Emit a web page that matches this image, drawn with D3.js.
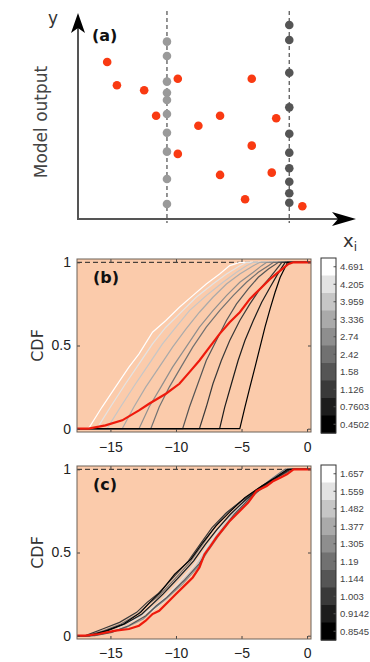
<!DOCTYPE html>
<html>
<head>
<meta charset="utf-8">
<script src="https://cdn.jsdelivr.net/npm/d3@7/dist/d3.min.js"></script>
<style>
  body { margin: 0; background: #fff; }
  svg { display: block; font-family: 'DejaVu Sans', sans-serif; }
  .tick line { stroke: #444; }
  .tick text { fill: #222; font-size: 14px; }
  .cb text { font-family: 'Liberation Sans', Arial, sans-serif; font-size: 9.5px; fill: #444; }
</style>
</head>
<body>
<svg></svg>
<script>
// ---- panel (a): scatter of model output against x_i
let fixedXi = [3.2, 7.6]
let redX = [1.05, 1.40, 2.38, 2.81, 3.59, 3.59, 4.33, 5.11, 5.11, 6.01, 6.25, 6.25, 6.97, 7.13, 8.07]
let redY = [7.62, 6.49, 6.25, 5.01, 6.81, 3.16, 4.53, 5.01, 2.14, 0.96, 6.81, 3.56, 2.25, 4.89, 0.62]
let lightY = [8.61, 7.91, 6.67, 6.13, 5.78, 5.10, 4.19, 3.27, 1.94, 0.73]
let darkY = [9.42, 8.69, 7.10, 5.42, 4.14, 3.22, 2.46, 1.81, 1.25, 0.79]

// ---- shared CDF axes
let cdfTicksX = [-15, -10, -5, 0]
let cdfTicksY = [0, 0.5, 1]

// ---- panel (b): conditional CDFs, lightest first
let bLabels = ['4.691', '4.205', '3.959', '3.336', '2.74', '2.42', '1.58', '1.126', '0.7603', '0.4502']
let bCurves = [
  [[-16.67, 0], [-15.64, 0.13], [-14.62, 0.25], [-13.59, 0.37], [-12.82, 0.45], [-11.79, 0.58], [-10.77, 0.65], [-9.74, 0.73], [-8.72, 0.80], [-7.69, 0.87], [-6.67, 0.93], [-5.90, 0.98], [-5.13, 1]],
  [[-16.03, 0], [-15.00, 0.13], [-13.85, 0.27], [-12.82, 0.39], [-11.79, 0.51], [-10.77, 0.61], [-9.49, 0.71], [-8.46, 0.79], [-7.18, 0.87], [-6.15, 0.93], [-5.13, 0.98], [-4.62, 1]],
  [[-15.26, 0], [-14.23, 0.13], [-13.08, 0.27], [-12.05, 0.39], [-11.03, 0.51], [-10.00, 0.61], [-8.97, 0.71], [-7.69, 0.80], [-6.41, 0.88], [-5.38, 0.94], [-4.62, 0.98], [-4.10, 1]],
  [[-14.10, 0], [-13.21, 0.13], [-12.31, 0.25], [-11.28, 0.37], [-10.26, 0.49], [-9.23, 0.60], [-8.21, 0.70], [-7.18, 0.79], [-6.15, 0.87], [-5.13, 0.93], [-4.10, 0.98], [-3.59, 1]],
  [[-12.82, 0], [-12.05, 0.13], [-11.15, 0.25], [-10.26, 0.37], [-9.23, 0.49], [-8.21, 0.61], [-7.18, 0.71], [-6.15, 0.80], [-5.13, 0.88], [-4.10, 0.94], [-3.46, 0.98], [-3.08, 1]],
  [[-11.92, 0], [-11.28, 0.13], [-10.51, 0.25], [-9.62, 0.37], [-8.72, 0.49], [-7.69, 0.61], [-6.67, 0.71], [-5.64, 0.80], [-4.62, 0.88], [-3.72, 0.94], [-2.95, 0.98], [-2.56, 1]],
  [[-9.49, 0], [-8.97, 0.13], [-8.33, 0.27], [-7.69, 0.41], [-6.92, 0.53], [-6.15, 0.65], [-5.38, 0.75], [-4.49, 0.84], [-3.72, 0.91], [-2.95, 0.96], [-2.18, 1]],
  [[-8.21, 0], [-7.69, 0.13], [-7.18, 0.27], [-6.54, 0.41], [-5.90, 0.53], [-5.13, 0.65], [-4.36, 0.75], [-3.59, 0.84], [-2.82, 0.91], [-2.31, 0.96], [-1.92, 1]],
  [[-6.67, 0], [-6.28, 0.13], [-5.77, 0.27], [-5.26, 0.41], [-4.74, 0.53], [-4.10, 0.65], [-3.46, 0.76], [-2.82, 0.85], [-2.31, 0.92], [-1.92, 0.97], [-1.67, 1]],
  [[-5.13, 0], [-4.74, 0.13], [-4.36, 0.25], [-3.97, 0.37], [-3.59, 0.49], [-3.21, 0.61], [-2.82, 0.72], [-2.44, 0.82], [-2.05, 0.91], [-1.67, 0.97], [-1.49, 1]]
]
let bRed = [[-16.67, 0], [-15.38, 0.02], [-14.10, 0.05], [-12.82, 0.11], [-12.05, 0.15], [-10.77, 0.21], [-9.74, 0.27], [-8.97, 0.34], [-8.21, 0.41], [-7.44, 0.49], [-6.67, 0.57], [-5.90, 0.64], [-5.13, 0.70], [-4.36, 0.78], [-3.59, 0.84], [-2.82, 0.90], [-2.05, 0.95], [-1.41, 0.99], [-1.03, 1]]

// ---- panel (c): conditional CDFs, lightest first
let cLabels = ['1.657', '1.559', '1.482', '1.377', '1.305', '1.19', '1.144', '1.003', '0.9142', '0.8545']
let cCurves = [
  [[-16.5, 0], [-15.2, 0.02], [-13.9, 0.05], [-12.6, 0.10], [-11.8, 0.15], [-11.0, 0.20], [-9.7, 0.30], [-8.55, 0.40], [-7.75, 0.50], [-6.85, 0.60], [-5.95, 0.70], [-4.75, 0.80], [-3.35, 0.90], [-2.45, 0.95], [-1.4, 1]],
  [[-16.6, 0], [-15.4, 0.03], [-14.1, 0.06], [-12.8, 0.11], [-11.9, 0.16], [-11.1, 0.21], [-9.9, 0.31], [-8.75, 0.41], [-7.85, 0.51], [-7.05, 0.60], [-6.15, 0.70], [-4.95, 0.80], [-3.55, 0.89], [-2.65, 0.95], [-1.6, 1]],
  [[-16.3, 0], [-15.0, 0.02], [-13.7, 0.06], [-12.4, 0.11], [-11.6, 0.17], [-10.8, 0.22], [-9.6, 0.32], [-8.45, 0.42], [-7.65, 0.52], [-6.75, 0.62], [-5.75, 0.72], [-4.55, 0.81], [-3.25, 0.90], [-2.25, 0.96], [-1.3, 1]],
  [[-16.7, 0], [-15.3, 0.03], [-14.0, 0.07], [-12.7, 0.12], [-11.9, 0.18], [-11.2, 0.23], [-10.0, 0.33], [-8.85, 0.43], [-7.95, 0.53], [-6.95, 0.63], [-6.05, 0.71], [-5.05, 0.79], [-3.65, 0.88], [-2.55, 0.94], [-1.5, 1]],
  [[-16.4, 0], [-15.1, 0.02], [-13.8, 0.05], [-12.5, 0.10], [-11.7, 0.16], [-10.9, 0.21], [-9.5, 0.31], [-8.35, 0.41], [-7.55, 0.51], [-6.65, 0.61], [-5.65, 0.71], [-4.45, 0.82], [-3.15, 0.91], [-2.15, 0.96], [-1.2, 1]],
  [[-16.8, 0], [-15.5, 0.03], [-14.2, 0.07], [-12.9, 0.13], [-12.1, 0.19], [-11.3, 0.24], [-10.1, 0.34], [-8.95, 0.44], [-8.05, 0.54], [-7.15, 0.64], [-6.25, 0.73], [-5.15, 0.80], [-3.75, 0.88], [-2.75, 0.94], [-1.7, 1]],
  [[-16.2, 0], [-14.9, 0.02], [-13.6, 0.06], [-12.3, 0.12], [-11.5, 0.18], [-10.7, 0.23], [-9.4, 0.33], [-8.25, 0.43], [-7.45, 0.53], [-6.55, 0.63], [-5.55, 0.73], [-4.35, 0.83], [-3.05, 0.91], [-2.05, 0.96], [-1.1, 1]],
  [[-16.9, 0], [-15.6, 0.04], [-14.3, 0.08], [-13.0, 0.14], [-12.2, 0.20], [-11.4, 0.25], [-10.2, 0.35], [-9.05, 0.45], [-8.15, 0.55], [-7.25, 0.65], [-6.15, 0.74], [-4.85, 0.82], [-3.45, 0.90], [-2.35, 0.95], [-1.4, 1]],
  [[-16.5, 0], [-15.2, 0.03], [-13.9, 0.07], [-12.6, 0.13], [-11.8, 0.19], [-11.0, 0.25], [-9.8, 0.35], [-8.65, 0.45], [-7.75, 0.55], [-6.85, 0.64], [-5.85, 0.73], [-4.65, 0.82], [-3.35, 0.90], [-2.35, 0.95], [-1.3, 1]],
  [[-16.6, 0], [-15.3, 0.03], [-14.0, 0.07], [-12.7, 0.14], [-12.0, 0.20], [-11.2, 0.26], [-10.1, 0.37], [-8.85, 0.46], [-7.95, 0.56], [-6.95, 0.66], [-5.95, 0.74], [-4.75, 0.83], [-3.45, 0.90], [-2.45, 0.95], [-1.5, 1]]
]
let cRed = [[-16.9, 0], [-15.9, 0.01], [-14.62, 0.03], [-13.59, 0.04], [-12.82, 0.06], [-12.31, 0.09], [-11.79, 0.13], [-11.28, 0.15], [-10.51, 0.21], [-10.00, 0.25], [-9.23, 0.31], [-8.72, 0.35], [-8.21, 0.41], [-7.82, 0.49], [-7.44, 0.53], [-6.92, 0.59], [-6.41, 0.64], [-5.90, 0.69], [-5.13, 0.75], [-4.49, 0.80], [-3.85, 0.87], [-3.08, 0.90], [-2.56, 0.93], [-2.05, 0.95], [-1.54, 0.97], [-1.03, 1]]

let width = 370
let height = 662
let peach = '#fbcbab'
let redColor = '#ee1a0c'

let svg = d3.select('svg').attr('width', width).attr('height', height)

let grayOf = (i) => {
  let g = Math.round(255 * (1 - i / 9))
  return 'rgb(' + g + ',' + g + ',' + g + ')'
}

// ---------------- panel (a)
let drawScatter = () => {
  let ax = d3.scaleLinear().domain([0, 10]).range([78, 356])
  let ay = d3.scaleLinear().domain([0, 10]).range([219, 13])
  let g = svg.append('g')

  g.selectAll('line.fixed')
  .data(fixedXi)
  .enter()
  .append('line')
  .attr('x1', (d) => ax(d)).attr('x2', (d) => ax(d))
  .attr('y1', ay(10) - 2).attr('y2', ay(0) + 4)
  .attr('stroke', '#666').attr('stroke-width', 1.4)
  .attr('stroke-dasharray', '4,3')

  // axes with arrow heads
  let x0 = ax.range()[0], x1 = ax.range()[1]
  let y0 = ay.range()[0], y1 = ay.range()[1]
  g.append('line').attr('x1', x0).attr('x2', x1 - 10).attr('y1', y0).attr('y2', y0)
  .attr('stroke', '#555').attr('stroke-width', 2)
  g.append('line').attr('x1', x0).attr('x2', x0).attr('y1', y0 + 1).attr('y2', y1 + 10)
  .attr('stroke', '#555').attr('stroke-width', 2)
  g.append('path')
  .attr('d', 'M' + x1 + ',' + y0 + 'L' + (x1 - 24) + ',' + (y0 - 7) + 'L' + (x1 - 18) + ',' + y0 + 'L' + (x1 - 24) + ',' + (y0 + 7) + 'Z')
  .attr('fill', '#000')
  g.append('path')
  .attr('d', 'M' + x0 + ',' + y1 + 'L' + (x0 - 7) + ',' + (y1 + 20) + 'L' + x0 + ',' + (y1 + 15) + 'L' + (x0 + 7) + ',' + (y1 + 20) + 'Z')
  .attr('fill', '#000')

  g.selectAll('circle.light')
  .data(lightY)
  .enter()
  .append('circle')
  .attr('r', 4.3)
  .attr('cx', ax(fixedXi[0]))
  .attr('cy', (d) => ay(d))
  .attr('fill', '#9a9a9a')

  g.selectAll('circle.dark')
  .data(darkY)
  .enter()
  .append('circle')
  .attr('r', 4.3)
  .attr('cx', ax(fixedXi[1]))
  .attr('cy', (d) => ay(d))
  .attr('fill', '#555')

  g.selectAll('circle.red')
  .data(redX)
  .enter()
  .append('circle')
  .attr('r', 4.3)
  .attr('cx', (d) => ax(d))
  .attr('cy', (d, i) => ay(redY[i]))
  .attr('fill', '#f93a12')

  g.append('text').attr('x', 48).attr('y', 24).style('font-size', '17px').attr('fill', '#333').text('y')
  g.append('text').attr('x', 92).attr('y', 41).style('font-size', '16px').style('font-weight', 'bold').attr('fill', '#111').text('(a)')
  g.append('text')
  .attr('transform', 'translate(47,122) rotate(-90)')
  .style('text-anchor', 'middle')
  .style('font-size', '17px')
  .attr('fill', '#444')
  .text('Model output')
  let xi = g.append('text').attr('x', 343).attr('y', 247).style('font-size', '18px').attr('fill', '#333')
  xi.append('tspan').text('x')
  xi.append('tspan').attr('dy', 4).style('font-size', '12px').text('i')
}

// ---------------- panels (b) and (c)
let drawCdfPanel = (top, curves, red, labels, tag) => {
  let x = d3.scaleLinear().domain([-17.55, 0.3]).range([77, 311])
  let y = d3.scaleLinear().domain([-0.02, 1.02]).range([top + 173, top])
  let g = svg.append('g')
  let clipId = 'clip-' + tag

  g.append('clipPath').attr('id', clipId)
  .append('rect')
  .attr('x', x.range()[0]).attr('y', top)
  .attr('width', x.range()[1] - x.range()[0]).attr('height', 173)

  g.append('rect')
  .attr('x', x.range()[0]).attr('y', top)
  .attr('width', x.range()[1] - x.range()[0]).attr('height', 173)
  .attr('fill', peach)

  g.append('line')
  .attr('x1', x.range()[0]).attr('x2', x.range()[1])
  .attr('y1', y(1)).attr('y2', y(1))
  .attr('stroke', '#222').attr('stroke-width', 1)
  .attr('stroke-dasharray', '5,3')

  let line = d3.line()
  .x((d) => x(d[0]))
  .y((d) => y(d[1]))
  let extend = (pts) => [[x.domain()[0], 0]].concat(pts).concat([[x.domain()[1], 1]])

  let curveG = g.append('g').attr('clip-path', 'url(#' + clipId + ')')
  curveG.selectAll('path.cdf')
  .data(curves)
  .enter()
  .append('path')
  .attr('d', (d) => line(extend(d)))
  .attr('fill', 'none')
  .attr('stroke', (d, i) => grayOf(i))
  .attr('stroke-width', 1.2)

  curveG.append('path')
  .attr('d', line(extend(red)))
  .attr('fill', 'none')
  .attr('stroke', redColor)
  .attr('stroke-width', 2.2)

  // box with inward ticks, MATLAB style
  g.append('g')
  .attr('transform', 'translate(0,' + (top + 173) + ')')
  .call(d3.axisBottom(x).tickValues(cdfTicksX).tickSize(-3).tickSizeOuter(0).tickPadding(tag === 'b' ? 10 : 9))
  .call((s) => s.select('.domain').remove())
  g.append('g')
  .attr('transform', 'translate(0,' + top + ')')
  .call(d3.axisTop(x).tickValues(cdfTicksX).tickSize(-3).tickSizeOuter(0).tickFormat(''))
  .call((s) => s.select('.domain').remove())
  g.append('g')
  .attr('transform', 'translate(' + x.range()[0] + ',0)')
  .call(d3.axisLeft(y).tickValues(cdfTicksY).tickSize(-3).tickSizeOuter(0).tickPadding(6).tickFormat(d3.format('')))
  .call((s) => s.select('.domain').remove())
  g.append('g')
  .attr('transform', 'translate(' + x.range()[1] + ',0)')
  .call(d3.axisRight(y).tickValues(cdfTicksY).tickSize(-3).tickSizeOuter(0).tickFormat(''))
  .call((s) => s.select('.domain').remove())

  g.append('rect')
  .attr('x', x.range()[0]).attr('y', top)
  .attr('width', x.range()[1] - x.range()[0]).attr('height', 173)
  .attr('fill', 'none').attr('stroke', '#6d6258').attr('stroke-width', 1)

  g.append('text')
  .attr('x', 93).attr('y', top + 24)
  .style('font-size', '16px').style('font-weight', 'bold').attr('fill', '#111')
  .text('(' + tag + ')')

  g.append('text')
  .attr('transform', 'translate(43,' + y(0.5) + ') rotate(-90)')
  .style('text-anchor', 'middle')
  .style('font-size', '16px')
  .attr('fill', '#333')
  .text('CDF')

  // colour bar
  let cb = g.append('g').attr('class', 'cb')
  let band = d3.scaleBand().domain(labels).range([top - 1, top + 174])
  cb.selectAll('rect.band')
  .data(labels)
  .enter()
  .append('rect')
  .attr('x', 321).attr('width', 15)
  .attr('y', (d) => band(d))
  .attr('height', band.bandwidth() + 0.5)
  .attr('fill', (d, i) => grayOf(i))
  cb.selectAll('line.cbtick')
  .data(labels)
  .enter()
  .append('line')
  .attr('x1', 333.5).attr('x2', 336)
  .attr('y1', (d) => band(d) + band.bandwidth() / 2)
  .attr('y2', (d) => band(d) + band.bandwidth() / 2)
  .attr('stroke', '#555')
  cb.append('rect')
  .attr('x', 321).attr('y', top - 1).attr('width', 15).attr('height', 175)
  .attr('fill', 'none').attr('stroke', '#333').attr('stroke-width', 1)
  cb.selectAll('text')
  .data(labels)
  .enter()
  .append('text')
  .attr('x', 340)
  .attr('y', (d) => band(d) + band.bandwidth() / 2)
  .attr('dy', '0.35em')
  .text((d) => d)
}

drawScatter()
drawCdfPanel(259, bCurves, bRed, bLabels, 'b')
drawCdfPanel(466, cCurves, cRed, cLabels, 'c')
</script>
</body>
</html>
